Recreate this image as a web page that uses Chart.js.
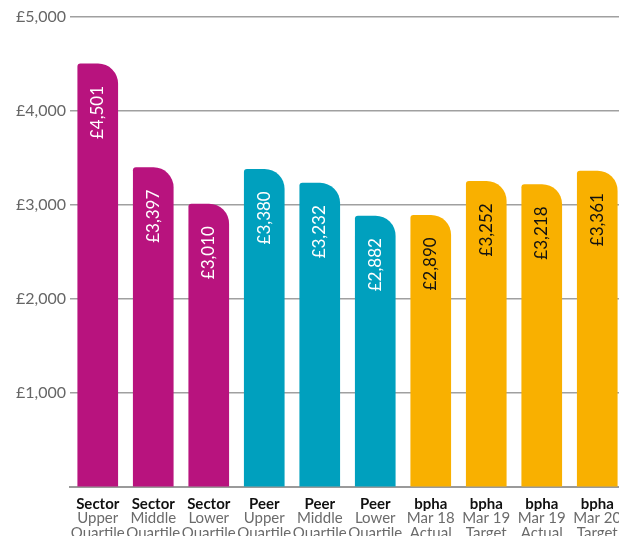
<!DOCTYPE html>
<html>
<head>
<meta charset="utf-8">
<script src="https://cdn.jsdelivr.net/npm/chart.js@4.4.1/dist/chart.umd.min.js"></script>
<style>
  html, body { margin: 0; padding: 0; background: #fff; overflow: hidden; }
  #wrap { position: absolute; left: 0; top: 0; width: 625px; height: 560px; }
</style>
</head>
<body>
<div id="wrap"><canvas id="costChart" width="625" height="560"></canvas></div>
<script>
// ---- data ----
const groupLabels = ['Sector', 'Sector', 'Sector', 'Peer', 'Peer', 'Peer', 'bpha', 'bpha', 'bpha', 'bpha'];
const subLabels = [
  ['Upper', 'Quartile'], ['Middle', 'Quartile'], ['Lower', 'Quartile'],
  ['Upper', 'Quartile'], ['Middle', 'Quartile'], ['Lower', 'Quartile'],
  ['Mar 18', 'Actual'], ['Mar 19', 'Target'], ['Mar 19', 'Actual'], ['Mar 20', 'Target']
];
const costValues = [4501, 3397, 3010, 3380, 3232, 2882, 2890, 3252, 3218, 3361];
const yTicks = [0, 1000, 2000, 3000, 4000, 5000];

const MAGENTA = '#b8137e';
const TEAL = '#00a0be';
const YELLOW = '#f9b000';
const barColors = groupLabels.map(g => g === 'Sector' ? MAGENTA : g === 'Peer' ? TEAL : YELLOW);
const valueTextColors = groupLabels.map(g => g === 'bpha' ? '#111' : '#fff');

const FONT = 'Lato, "Noto Sans", sans-serif';

const fmt = v => '£' + v.toLocaleString('en-GB');

// ---- value labels rotated inside bars ----
const barValueLabels = {
  id: 'barValueLabels',
  afterDatasetsDraw(chart) {
    const ctx = chart.ctx;
    const meta = chart.getDatasetMeta(0);
    meta.data.forEach((bar, i) => {
      ctx.save();
      ctx.translate(bar.x, bar.y + 22);
      ctx.rotate(-Math.PI / 2);
      ctx.font = '17px ' + FONT;
      ctx.fillStyle = valueTextColors[i];
      ctx.textAlign = 'right';
      ctx.textBaseline = 'middle';
      ctx.fillText(fmt(costValues[i]), 0, 0);
      ctx.restore();
    });
  }
};

new Chart(document.getElementById('costChart').getContext('2d'), {
  type: 'bar',
  data: {
    labels: groupLabels,
    datasets: [{
      data: costValues,
      backgroundColor: barColors,
      borderWidth: 0,
      borderSkipped: false,
      borderRadius: { topLeft: 3, topRight: 20, bottomLeft: 0, bottomRight: 0 },
      barThickness: 40
    }]
  },
  options: {
    responsive: false,
    animation: false,
    layout: { autoPadding: false, padding: { top: 17, left: 0, right: 0, bottom: 0 } },
    plugins: { legend: { display: false }, tooltip: { enabled: false } },
    scales: {
      x: {
        position: 'bottom',
        afterFit: s => { s.height = 24; },
        grid: { display: false, drawTicks: false },
        border: { display: true, color: '#9a9a9a', width: 2 },
        ticks: { color: '#111', font: { family: FONT, size: 15, weight: 'bold' }, padding: 8, maxRotation: 0, autoSkip: false }
      },
      x2: {
        type: 'category',
        position: 'bottom',
        labels: subLabels,
        offset: true,
        afterFit: s => { s.height = 49; },
        grid: { display: false, drawTicks: false },
        border: { display: false },
        ticks: { color: '#6b6b6b', font: { family: FONT, size: 15, lineHeight: 1.0 }, padding: 0, maxRotation: 0, autoSkip: false }
      },
      y: {
        min: 0,
        max: 5000,
        afterFit: s => { s.width = 70; },
        afterBuildTicks: s => { s.ticks = yTicks.map(v => ({ value: v })); },
        grid: { color: '#a0a0a0', lineWidth: 1.5, drawTicks: false },
        border: { display: false },
        ticks: {
          color: '#666',
          padding: 4,
          font: { family: FONT, size: 16 },
          callback: v => v === 0 ? '' : fmt(v)
        }
      }
    }
  },
  plugins: [barValueLabels]
});
</script>
</body>
</html>
